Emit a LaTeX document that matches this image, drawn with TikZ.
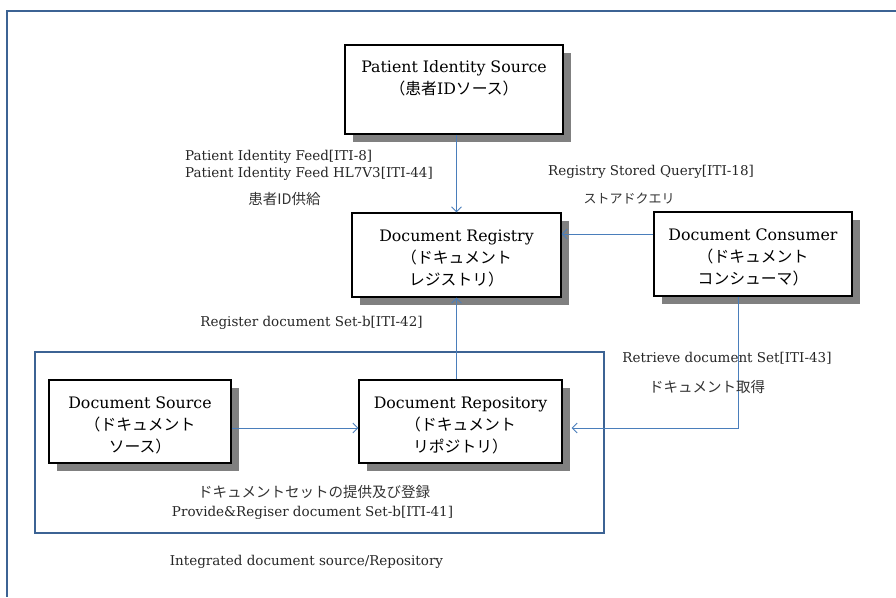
\documentclass[tikz,border=0pt]{standalone}
\usepackage{fontspec}
\setmainfont{DejaVu Serif}
\newfontfamily\jp{Noto Sans CJK JP}
\usetikzlibrary{arrows.meta,shadows,calc}

\definecolor{framecol}{HTML}{3C6394}
\definecolor{flowcol}{HTML}{4A7EBB}
\definecolor{shadecol}{HTML}{808080}

% Japanese run inside Latin text
\newcommand{\J}[1]{{\jp #1}}

\tikzset{
  actor/.style={draw=black, line width=1.1pt, fill=white, inner sep=0pt,
    drop shadow={shadow xshift=8pt, shadow yshift=-8pt, fill=shadecol, opacity=1}},
  boxtext/.style={anchor=north, align=center, inner sep=0pt,
    font=\fontsize{15.8}{22}\selectfont},
  lbl/.style={inner sep=0pt, text=black!85, font=\fontsize{13.5}{17}\selectfont},
  jlbl/.style={inner sep=0pt, text=black!80, font=\jp\fontsize{14.5}{17}\selectfont},
  flow/.style={draw=flowcol, line width=0.9pt, -{Straight Barb[length=5pt,width=10pt]}},
}

\begin{document}
\begin{tikzpicture}[x=1pt, y=-1pt]
\useasboundingbox (0,0) rectangle (896,597);

% outer frame
\draw[framecol, line width=1.6pt] (7,11) -- (7,597);
\draw[framecol, line width=2.4pt] (6.2,11) -- (896,11);

% integrated source/repository area
\node[draw=framecol, line width=2.6pt, minimum width=569pt, minimum height=181pt,
      inner sep=0pt] (intg) at (319.5,442.5) {};

% actors
\node[actor, minimum width=218pt, minimum height=89pt] (pis) at (454,89.5) {};
\node[actor, minimum width=209pt, minimum height=84pt] (reg) at (456.5,255) {};
\node[actor, minimum width=198pt, minimum height=84pt] (con) at (753,254) {};
\node[actor, minimum width=182pt, minimum height=83pt] (src) at (140,421.5) {};
\node[actor, minimum width=203pt, minimum height=83pt] (rep) at (460.5,421.5) {};

% actor captions
\node[boxtext] (pis-t) at ([yshift=-16pt]pis.north) {Patient Identity Source\\\J{（患者}ID\J{ソース）}};
\node[boxtext] (reg-t) at ([yshift=-17pt]reg.north) {Document Registry\\\J{（ドキュメント}\\\J{レジストリ）}};
\node[boxtext] (con-t) at ([yshift=-17pt]con.north) {Document Consumer\\\J{（ドキュメント}\\\J{コンシューマ）}};
\node[boxtext] (src-t) at ([yshift=-17pt]src.north) {Document Source\\\J{（ドキュメント}\\\J{ソース）}};
\node[boxtext] (rep-t) at ([yshift=-17pt]rep.north) {Document Repository\\\J{（ドキュメント}\\\J{リポジトリ）}};

% transactions
\draw[flow] (reg.north |- pis.south) -- (reg.north);
\draw[flow] ([yshift=20pt]con.west) -- ([yshift=20pt]con.west -| reg.east);
\draw[flow] (reg.south |- rep.north) -- (reg.south);
\draw[flow] ([yshift=-6.5pt]src.east) -- ([yshift=-6.5pt]src.east -| rep.west);
\draw[flow] ([xshift=-15pt]con.south) |- ([xshift=9pt,yshift=-6.5pt]rep.east);

% transaction labels
\node[lbl, anchor=west] (l8) at (185,157) {Patient Identity Feed[ITI-8]};
\node[lbl, anchor=west] (l44) at (185,174) {Patient Identity Feed HL7V3[ITI-44]};
\node[jlbl] (l44j) at (284.5,199) {患者ID供給};
\node[lbl] (l18) at (651,172) {Registry Stored Query[ITI-18]};
\node[jlbl, font=\jp\fontsize{13}{16}\selectfont] (l18j) at (629,199) {ストアドクエリ};
\node[lbl] (l42) at (311.5,323) {Register document Set-b[ITI-42]};
\node[lbl] (l43) at (727,358) {Retrieve document Set[ITI-43]};
\node[jlbl] (l43j) at (707,387) {ドキュメント取得};
\node[jlbl] (l41j) at (314,492) {ドキュメントセットの提供及び登録};
\node[lbl] (l41) at (312.5,513) {Provide\&Regiser document Set-b[ITI-41]};
\node[lbl] (lint) at (306.5,562) {Integrated document source/Repository};
\end{tikzpicture}
\end{document}
